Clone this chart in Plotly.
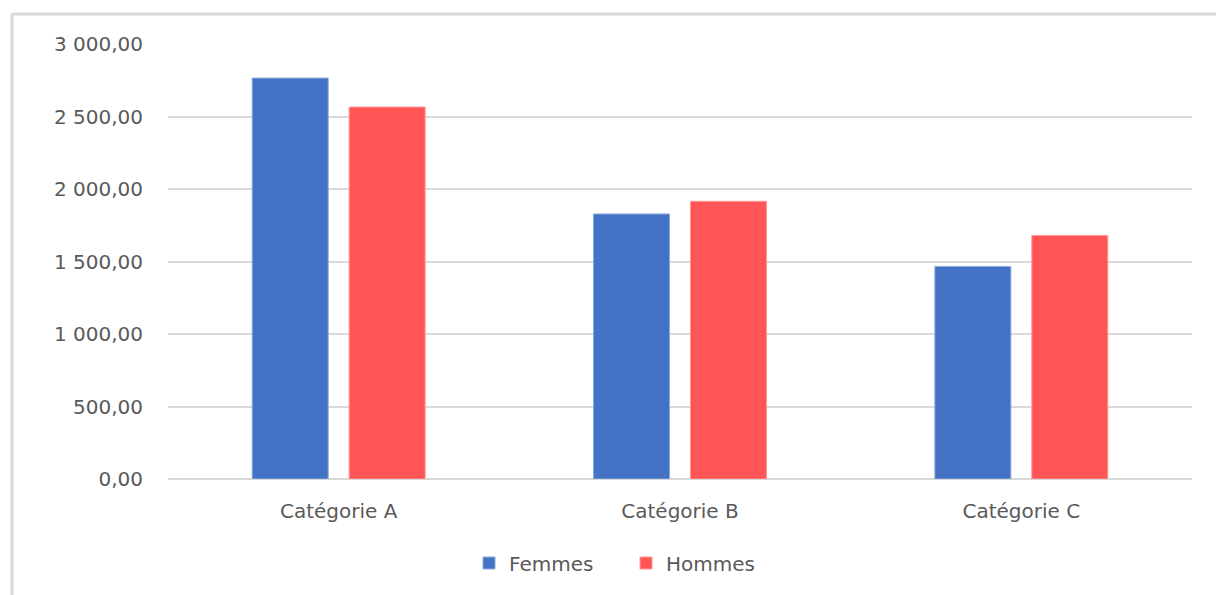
import plotly.graph_objects as go

categories = ["Catégorie A", "Catégorie B", "Catégorie C"]
femmes = [2765, 1828, 1466]
hommes = [2565, 1915, 1680]
y_ticks = [0, 500, 1000, 1500, 2000, 2500, 3000]

W, H = 1216, 595
text_color = "#595959"
grid_color = "#d9d9d9"
font_family = "DejaVu Sans, Open Sans, sans-serif"

fig = go.Figure()
fig.add_trace(go.Bar(name="Femmes", x=categories, y=femmes,
                     marker=dict(color="#4472c4", line=dict(color="#8faadc", width=1))))
fig.add_trace(go.Bar(name="Hommes", x=categories, y=hommes,
                     marker=dict(color="#ff5555", line=dict(color="#ff9999", width=1))))

fig.update_layout(
    width=W, height=H, autosize=False,
    margin=dict(l=168, r=24, t=44, b=116),
    paper_bgcolor="white", plot_bgcolor="white",
    separators=", ",
    barmode="group", bargap=0.432, bargroupgap=0.216,
    font=dict(family=font_family, size=20, color=text_color),
    legend=dict(orientation="h", x=626 / W, xanchor="center", xref="container",
                y=1 - 563 / H, yanchor="middle", yref="container",
                font=dict(size=20, color=text_color), itemwidth=30,
                entrywidth=112, traceorder="normal"),
    xaxis=dict(showgrid=False, showline=False, ticks="", zeroline=False,
               tickfont=dict(size=20, color=text_color), ticklabelstandoff=18),
    yaxis=dict(range=[0, 3000], tickvals=y_ticks, tickformat=",.2f",
               showgrid=True, gridcolor=grid_color, gridwidth=2,
               zeroline=True, zerolinecolor=grid_color, zerolinewidth=2,
               showline=False, ticks="", ticklabelstandoff=24,
               tickfont=dict(size=20, color=text_color)),
    shapes=[
        dict(type="line", xref="paper", yref="paper",
             x0=-(168 - 12) / (W - 168 - 24), x1=(W - 168) / (W - 168 - 24),
             y0=1 + (44 - 14) / (H - 44 - 116), y1=1 + (44 - 14) / (H - 44 - 116),
             line=dict(color=grid_color, width=3)),
        dict(type="line", xref="paper", yref="paper",
             x0=-(168 - 12) / (W - 168 - 24), x1=-(168 - 12) / (W - 168 - 24),
             y0=1 + (44 - 14) / (H - 44 - 116), y1=-(116) / (H - 44 - 116),
             line=dict(color=grid_color, width=3)),
    ],
)

fig.write_html("out.html")
